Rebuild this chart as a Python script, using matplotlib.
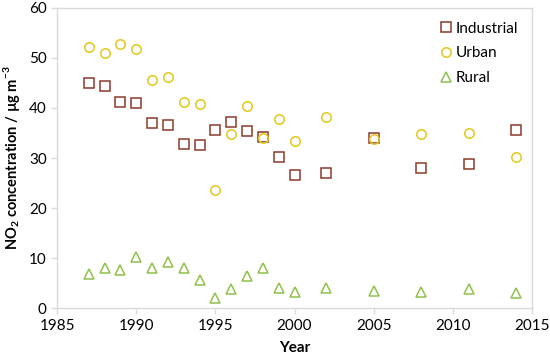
import matplotlib.pyplot as plt

plt.rcParams['font.family'] = ['Lato', 'DejaVu Sans']
plt.rcParams['mathtext.fontset'] = 'custom'
plt.rcParams['mathtext.rm'] = 'Lato'
plt.rcParams['mathtext.bf'] = 'Lato:bold'

# Years with measurements
years = [1987, 1988, 1989, 1990, 1991, 1992, 1993, 1994, 1995, 1996,
         1997, 1998, 1999, 2000, 2002, 2005, 2008, 2011, 2014]

# NO2 concentrations (ug/m3)
industrial = [45.0, 44.4, 41.2, 41.0, 37.1, 36.7, 32.8, 32.7, 35.6, 37.2,
              35.4, 34.3, 30.3, 26.7, 27.1, 34.0, 28.0, 28.9, 35.6]
urban = [52.1, 51.0, 52.8, 51.8, 45.6, 46.2, 41.2, 40.7, 23.6, 34.9,
         40.4, 34.0, 37.8, 33.4, 38.2, 33.9, 34.9, 35.0, 30.3]
rural = [6.9, 8.1, 7.7, 10.3, 8.0, 9.3, 8.0, 5.6, 2.0, 3.9,
         6.4, 8.1, 4.0, 3.2, 4.0, 3.5, 3.3, 3.8, 3.1]

fig = plt.figure(figsize=(5.5, 3.6), dpi=100)
ax = fig.add_axes([0.104, 0.144, 0.863, 0.834])

mk = dict(linestyle='none', markersize=6.8, markeredgewidth=1.1,
          markerfacecolor='none')
ax.plot(years, industrial, marker='s', markeredgecolor='#8b3a2b',
        label='Industrial', **mk)
ax.plot(years, urban, marker='o', markeredgecolor='#e3c71c',
        label='Urban', **mk)
ax.plot(years, rural, marker='^', markeredgecolor='#8fc04c',
        label='Rural', **mk)

ax.set_xlim(1985, 2015)
ax.set_ylim(0, 60)
ax.set_xticks(range(1985, 2016, 5))
ax.set_yticks(range(0, 61, 10))

for s in ax.spines.values():
    s.set_color('#d9d9d9')
    s.set_linewidth(1.0)
ax.tick_params(axis='both', colors='#d9d9d9', labelcolor='black',
               labelsize=11, length=4, width=1.0)

ax.set_xlabel('Year', fontsize=11, fontweight='bold', labelpad=6)
ax.set_ylabel(r'NO$_\mathbf{2}$ concentration / µg m$^\mathbf{-3}$',
              fontsize=10.5, fontweight='bold', labelpad=5)

ax.legend(loc='upper right', frameon=False, fontsize=11,
          handletextpad=0.1, handlelength=1.0, labelspacing=0.7,
          borderaxespad=0.5)

fig.savefig('out.png', dpi=100)
